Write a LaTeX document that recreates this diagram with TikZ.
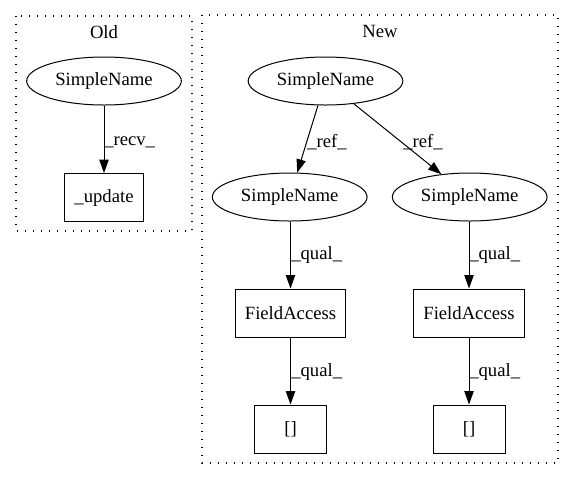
\documentclass[tikz,border=0pt]{standalone}
\usepackage{fontspec}
\setmainfont{Liberation Serif}
\usetikzlibrary{arrows.meta,shapes.geometric}
\tikzset{
  every node/.style={font=\fontsize{14pt}{16pt}\selectfont, inner sep=0pt},
  ell/.style={draw, ellipse, minimum width=116pt, minimum height=36pt, line width=0.75pt},
  boxnode/.style={draw, rectangle, minimum height=36pt, line width=0.75pt},
  edge/.style={draw, line width=0.75pt, -{Triangle[length=10pt,width=7pt]}},
  cluster/.style={draw, line width=0.8pt, dash pattern=on 1.1pt off 4.9pt},
  lbl/.style={anchor=west}
}
\begin{document}
\begin{tikzpicture}[x=0.75pt,y=-0.75pt]
\useasboundingbox (0,0) rectangle (573,480);
% clusters
\draw[cluster] (16,16) rectangle (192,231);
\node (oldt) at (104,32) {Old};
\draw[cluster] (202,15) rectangle (558,463);
\node (newt) at (380,31) {New};
% Old
\node[ell] (o1) at (104,81) {SimpleName};
\node[boxnode, minimum width=59pt] (o2) at (104,197.5) {\_update};
\draw[edge] (o1) -- (o2);
\node[lbl] at (104,142) {\_recv\_};
% New
\node[ell] (n1) at (325.5,81) {SimpleName};
\node[ell] (n2) at (289.7,197) {SimpleName};
\node[ell] (n3) at (469.7,197) {SimpleName};
\node[boxnode, minimum width=83pt] (n4) at (290.5,313) {FieldAccess};
\node[boxnode, minimum width=83pt] (n5) at (469,313) {FieldAccess};
\node[boxnode, minimum width=54pt] (n6) at (290.5,429) {[]};
\node[boxnode, minimum width=54pt] (n7) at (469,429) {[]};
\draw[edge] (n1) -- (n2);
\draw[edge] (n1) -- (n3);
\draw[edge] (n2.south -| n4.north) -- (n4.north);
\draw[edge] (n3.south -| n5.north) -- (n5.north);
\draw[edge] (n4) -- (n6);
\draw[edge] (n5) -- (n7);
\node at (327,142) {\_ref\_};
\node at (423,142) {\_ref\_};
\node[lbl] at (291,255) {\_qual\_};
\node[lbl] at (469,255) {\_qual\_};
\node[lbl] at (291,372) {\_qual\_};
\node[lbl] at (469,372) {\_qual\_};
\end{tikzpicture}
\end{document}
